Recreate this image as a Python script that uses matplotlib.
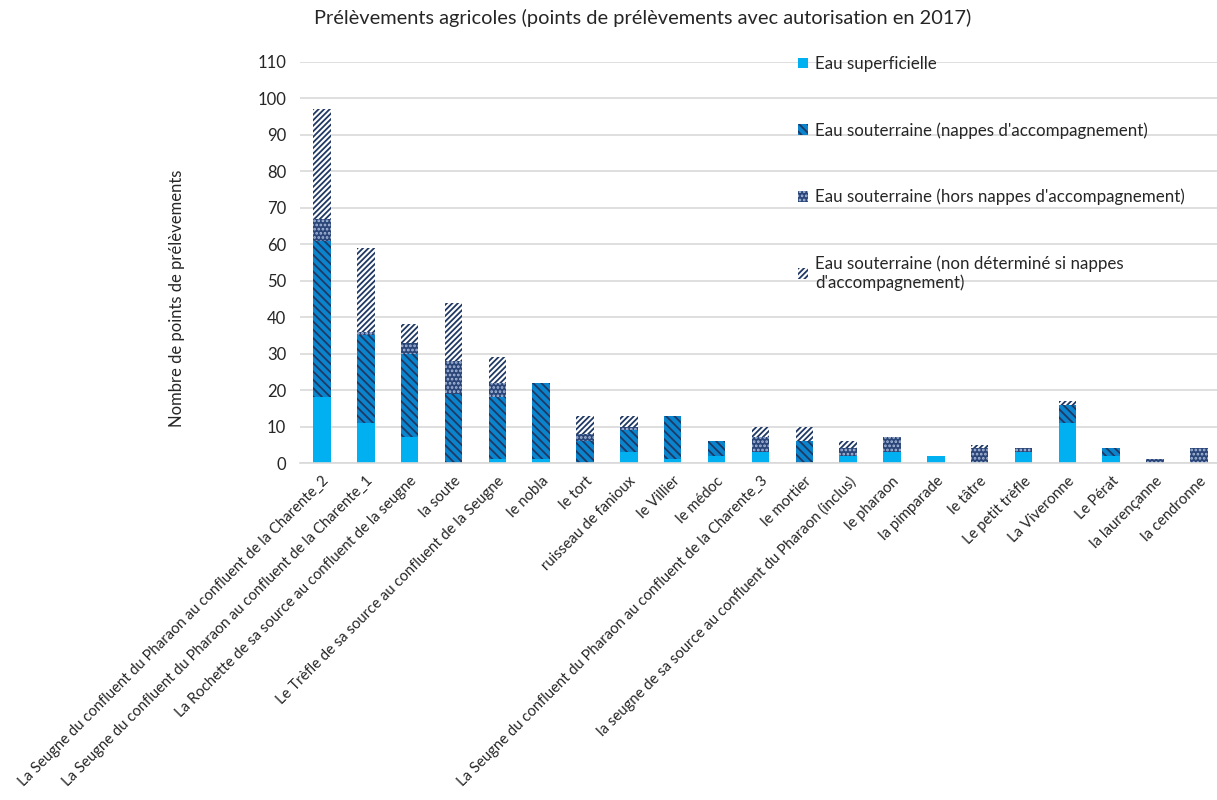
import numpy as np
import matplotlib
matplotlib.use("Agg")
import matplotlib.pyplot as plt

plt.rcParams['font.family'] = ['Lato', 'DejaVu Sans']
plt.rcParams['hatch.linewidth'] = 1.3

categories = [
    "La Seugne du confluent du Pharaon au confluent de la Charente_2",
    "La Seugne du confluent du Pharaon au confluent de la Charente_1",
    "La Rochette de sa source au confluent de la seugne",
    "la soute",
    "Le Trèfle de sa source au confluent de la Seugne",
    "le nobla",
    "le tort",
    "ruisseau de fanioux",
    "le Villier",
    "le médoc",
    "La Seugne du confluent du Pharaon au confluent de la Charente_3",
    "le mortier",
    "la seugne de sa source au confluent du Pharaon (inclus)",
    "le pharaon",
    "la pimparade",
    "le tâtre",
    "Le petit trèfle",
    "La Viveronne",
    "Le Pérat",
    "la laurençanne",
    "la cendronne",
]
superficielle = [18, 11, 7, 0, 1, 1, 0, 3, 1, 2, 3, 0, 2, 3, 2, 0, 3, 11, 2, 0, 0]
nappes_acc = [43, 24, 23, 19, 17, 21, 6, 6, 12, 4, 0, 6, 0, 0, 0, 0, 0, 5, 2, 0, 0]
hors_nappes = [6, 1, 3, 9, 4, 0, 2, 1, 0, 0, 4, 0, 2, 4, 0, 4, 1, 0, 0, 1, 4]
non_determine = [30, 23, 5, 16, 7, 0, 5, 3, 0, 0, 3, 4, 2, 0, 0, 1, 0, 1, 0, 0, 0]

labels = ["Eau superficielle",
          "Eau souterraine (nappes d'accompagnement)",
          "Eau souterraine (hors nappes d'accompagnement)",
          "Eau souterraine (non déterminé si nappes\nd'accompagnement)"]

W, H = 1217, 800
fig = plt.figure(figsize=(W / 100, H / 100), dpi=100)
ax = fig.add_axes([300 / W, 1 - 463 / H, 1 - 300 / W, (463 - 62) / H])

x = np.arange(len(categories))
width = 0.4
navy = '#1F3864'

b0 = np.zeros(len(x))
ax.bar(x, superficielle, width, bottom=b0, color='#00B0F0', lw=0, label=labels[0], zorder=2)
b1 = b0 + np.array(superficielle)
ax.bar(x, nappes_acc, width, bottom=b1, facecolor='#0A84CC', edgecolor=navy,
       hatch='\\\\\\\\', lw=0, label=labels[1], zorder=2)
b2 = b1 + np.array(nappes_acc)
ax.bar(x, hors_nappes, width, bottom=b2, facecolor='#2A4577', edgecolor='#A9BADB',
       hatch='....', lw=0, label=labels[2], zorder=2)
b3 = b2 + np.array(hors_nappes)
ax.bar(x, non_determine, width, bottom=b3, facecolor='white', edgecolor=navy,
       hatch='//////', lw=0, label=labels[3], zorder=2)

ax.set_xlim(-0.5, -0.5 + (W - 300) / 43.85)
ax.set_ylim(0, 110)
ax.set_yticks(range(0, 111, 10))
ax.yaxis.grid(True, color='#D9D9D9', lw=1.2, zorder=0)
ax.set_axisbelow(True)
for s in ['top', 'right', 'left']:
    ax.spines[s].set_visible(False)
ax.spines['bottom'].set_color('#D9D9D9')
ax.spines['bottom'].set_linewidth(1.2)
ax.tick_params(axis='both', length=0, labelsize=12, colors='#262626', pad=10)
ax.set_xticks(x)
ax.set_xticklabels(categories, rotation=45, ha='right', rotation_mode='anchor', fontsize=10.7)
ax.tick_params(axis='x', pad=8)

fig.text(177 / W, 1 - 298 / H, "Nombre de points de prélèvements", rotation=90,
         ha='center', va='center', fontsize=12, color='#262626')
fig.text(643 / W, 1 - 18 / H,
         "Prélèvements agricoles (points de prélèvements avec autorisation en 2017)",
         ha='center', va='center', fontsize=14.4, color='#262626')

ax.legend(loc='upper left', bbox_to_anchor=(798 / W, 1 - 56 / H),
          bbox_transform=fig.transFigure, frameon=False, fontsize=12.2,
          handlelength=0.6, handleheight=0.6, handletextpad=0.4,
          labelspacing=2.95, borderpad=0, borderaxespad=0, labelcolor='#262626')

fig.savefig("out.png", dpi=100)
